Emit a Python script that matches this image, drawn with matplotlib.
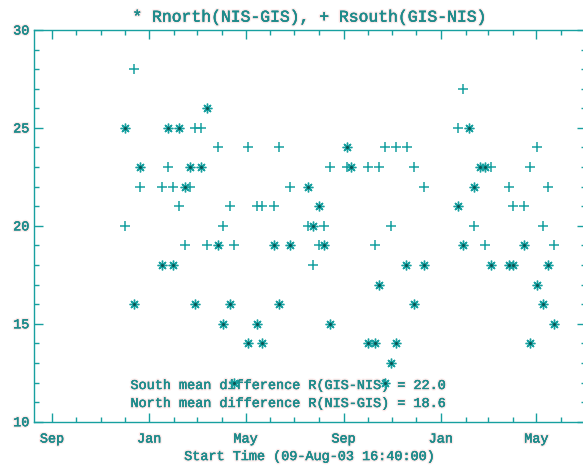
import numpy as np
import matplotlib
matplotlib.use('Agg')
import matplotlib.pyplot as plt
import matplotlib.dates as mdates
import matplotlib.patheffects as pe
from datetime import datetime, timedelta

# event dates and north/south ratios
north_dates = ['2003-12-02', '2003-12-13', '2003-12-20', '2004-01-17', '2004-01-24',
               '2004-01-31', '2004-02-07', '2004-02-15', '2004-02-21', '2004-02-28',
               '2004-03-06', '2004-03-13', '2004-03-27', '2004-04-03', '2004-04-11',
               '2004-04-17', '2004-05-04', '2004-05-15', '2004-05-22', '2004-06-05',
               '2004-06-12', '2004-06-26', '2004-07-18', '2004-07-24', '2004-08-01',
               '2004-08-07', '2004-08-15', '2004-09-05', '2004-09-10', '2004-10-01',
               '2004-10-10', '2004-10-16', '2004-10-23', '2004-10-31', '2004-11-06',
               '2004-11-18', '2004-11-28', '2004-12-11', '2005-01-22', '2005-01-29',
               '2005-02-05', '2005-02-12', '2005-02-19', '2005-02-26', '2005-03-05',
               '2005-03-27', '2005-04-02', '2005-04-16', '2005-04-23', '2005-05-02',
               '2005-05-09', '2005-05-16', '2005-05-23']
north_vals = [25, 16, 23, 18, 25,
              18, 25, 22, 23, 16,
              23, 26, 19, 15, 16,
              12, 14, 15, 14, 19,
              16, 19, 22, 20, 21,
              19, 15, 24, 23, 14,
              14, 17, 12, 13, 14,
              18, 16, 18, 21, 19,
              25, 22, 23, 23, 18,
              18, 18, 19, 14, 17,
              16, 18, 15]

south_dates = ['2003-12-02', '2003-12-13', '2003-12-20', '2004-01-17', '2004-01-24',
               '2004-01-31', '2004-02-07', '2004-02-15', '2004-02-21', '2004-02-28',
               '2004-03-06', '2004-03-13', '2004-03-27', '2004-04-03', '2004-04-11',
               '2004-04-17', '2004-05-04', '2004-05-15', '2004-05-22', '2004-06-05',
               '2004-06-12', '2004-06-26', '2004-07-18', '2004-07-24', '2004-08-01',
               '2004-08-07', '2004-08-15', '2004-09-05', '2004-10-02', '2004-10-10',
               '2004-10-16', '2004-10-23', '2004-10-31', '2004-11-06', '2004-11-19',
               '2004-11-28', '2004-12-11', '2005-01-22', '2005-01-29', '2005-02-12',
               '2005-02-26', '2005-03-05', '2005-03-27', '2005-04-02', '2005-04-16',
               '2005-04-23', '2005-05-02', '2005-05-09', '2005-05-16', '2005-05-23']
south_vals = [20, 28, 22, 22, 23,
              22, 21, 19, 22, 25,
              25, 19, 24, 20, 21,
              19, 24, 21, 21, 21,
              24, 22, 20, 18, 19,
              20, 23, 23, 23, 19,
              23, 24, 20, 24, 24,
              23, 22, 25, 27, 20,
              19, 23, 22, 21, 21,
              23, 24, 20, 22, 19]

south_mean = 22.0
north_mean = 18.6

teal = '#17a0a0'
teal_text = '#1f8b8b'
mono = 'Liberation Mono'
halo = '#fdeaea'

# slightly heavier text with a faint pink halo, like the original rendering
text_fx = [pe.withStroke(linewidth=2.2, foreground=halo),
           pe.withStroke(linewidth=0.3, foreground=teal_text)]

nd = [datetime.strptime(d, '%Y-%m-%d') for d in north_dates]
sd = [datetime.strptime(d, '%Y-%m-%d') for d in south_dates]

start = datetime(2003, 8, 9, 16, 40)
end = start + timedelta(days=692.5)

fig = plt.figure(figsize=(5.83, 4.69), dpi=100)
ax = fig.add_axes([0.0588, 0.1009, 0.9463, 0.8352])

ax.plot(sd, south_vals, linestyle='none', marker='+', markersize=7.5,
        markeredgewidth=1.1, color=teal, zorder=3)
ax.plot(nd, north_vals, linestyle='none', marker=(8, 2, 0), markersize=7,
        markeredgewidth=1.0, color=teal, zorder=3)
ax.plot(nd, north_vals, linestyle='none', marker='o', markersize=2.2,
        markeredgewidth=0, color='#0d5555', zorder=3)

ax.set_xlim(start, end)
ax.set_ylim(10, 30)

ax.xaxis.set_major_locator(mdates.MonthLocator(bymonth=[1, 5, 9]))
ax.xaxis.set_minor_locator(mdates.MonthLocator())
ax.xaxis.set_major_formatter(mdates.DateFormatter('%b'))
ax.set_yticks([10, 15, 20, 25, 30])
ax.set_yticks(np.arange(10, 31, 1), minor=True)

for s in ax.spines.values():
    s.set_color(teal)
    s.set_linewidth(1.0)
ax.tick_params(which='both', direction='in', top=True, right=True,
               color=teal, width=1.0, labelcolor=teal_text)
ax.tick_params(which='major', length=6.5)
ax.tick_params(which='minor', length=3.3)
ax.tick_params(axis='x', which='major', pad=8.5)
ax.tick_params(axis='y', which='major', pad=3.5)
for lab in ax.get_xticklabels() + ax.get_yticklabels():
    lab.set_fontfamily(mono)
    lab.set_fontsize(9.7)
    lab.set_path_effects(text_fx)

ax.set_xlabel('Start Time (09-Aug-03 16:40:00)', family=mono, fontsize=9.7,
              color=teal_text, labelpad=4, path_effects=text_fx)
ax.set_title('* Rnorth(NIS-GIS), + Rsouth(GIS-NIS)', family=mono,
             fontsize=11.8, color=teal_text, pad=6, path_effects=text_fx)

# mean differences, drawn under the markers
ax.text(130.5 / 583, 1 - 386 / 469,
        'South mean difference R(GIS-NIS) = %.1f' % south_mean,
        transform=fig.transFigure, family=mono, fontsize=9.7, color=teal_text,
        va='center', zorder=1, path_effects=text_fx)
ax.text(130.5 / 583, 1 - 404 / 469,
        'North mean difference R(NIS-GIS) = %.1f' % north_mean,
        transform=fig.transFigure, family=mono, fontsize=9.7, color=teal_text,
        va='center', zorder=1, path_effects=text_fx)

fig.savefig('out.png', dpi=100)
